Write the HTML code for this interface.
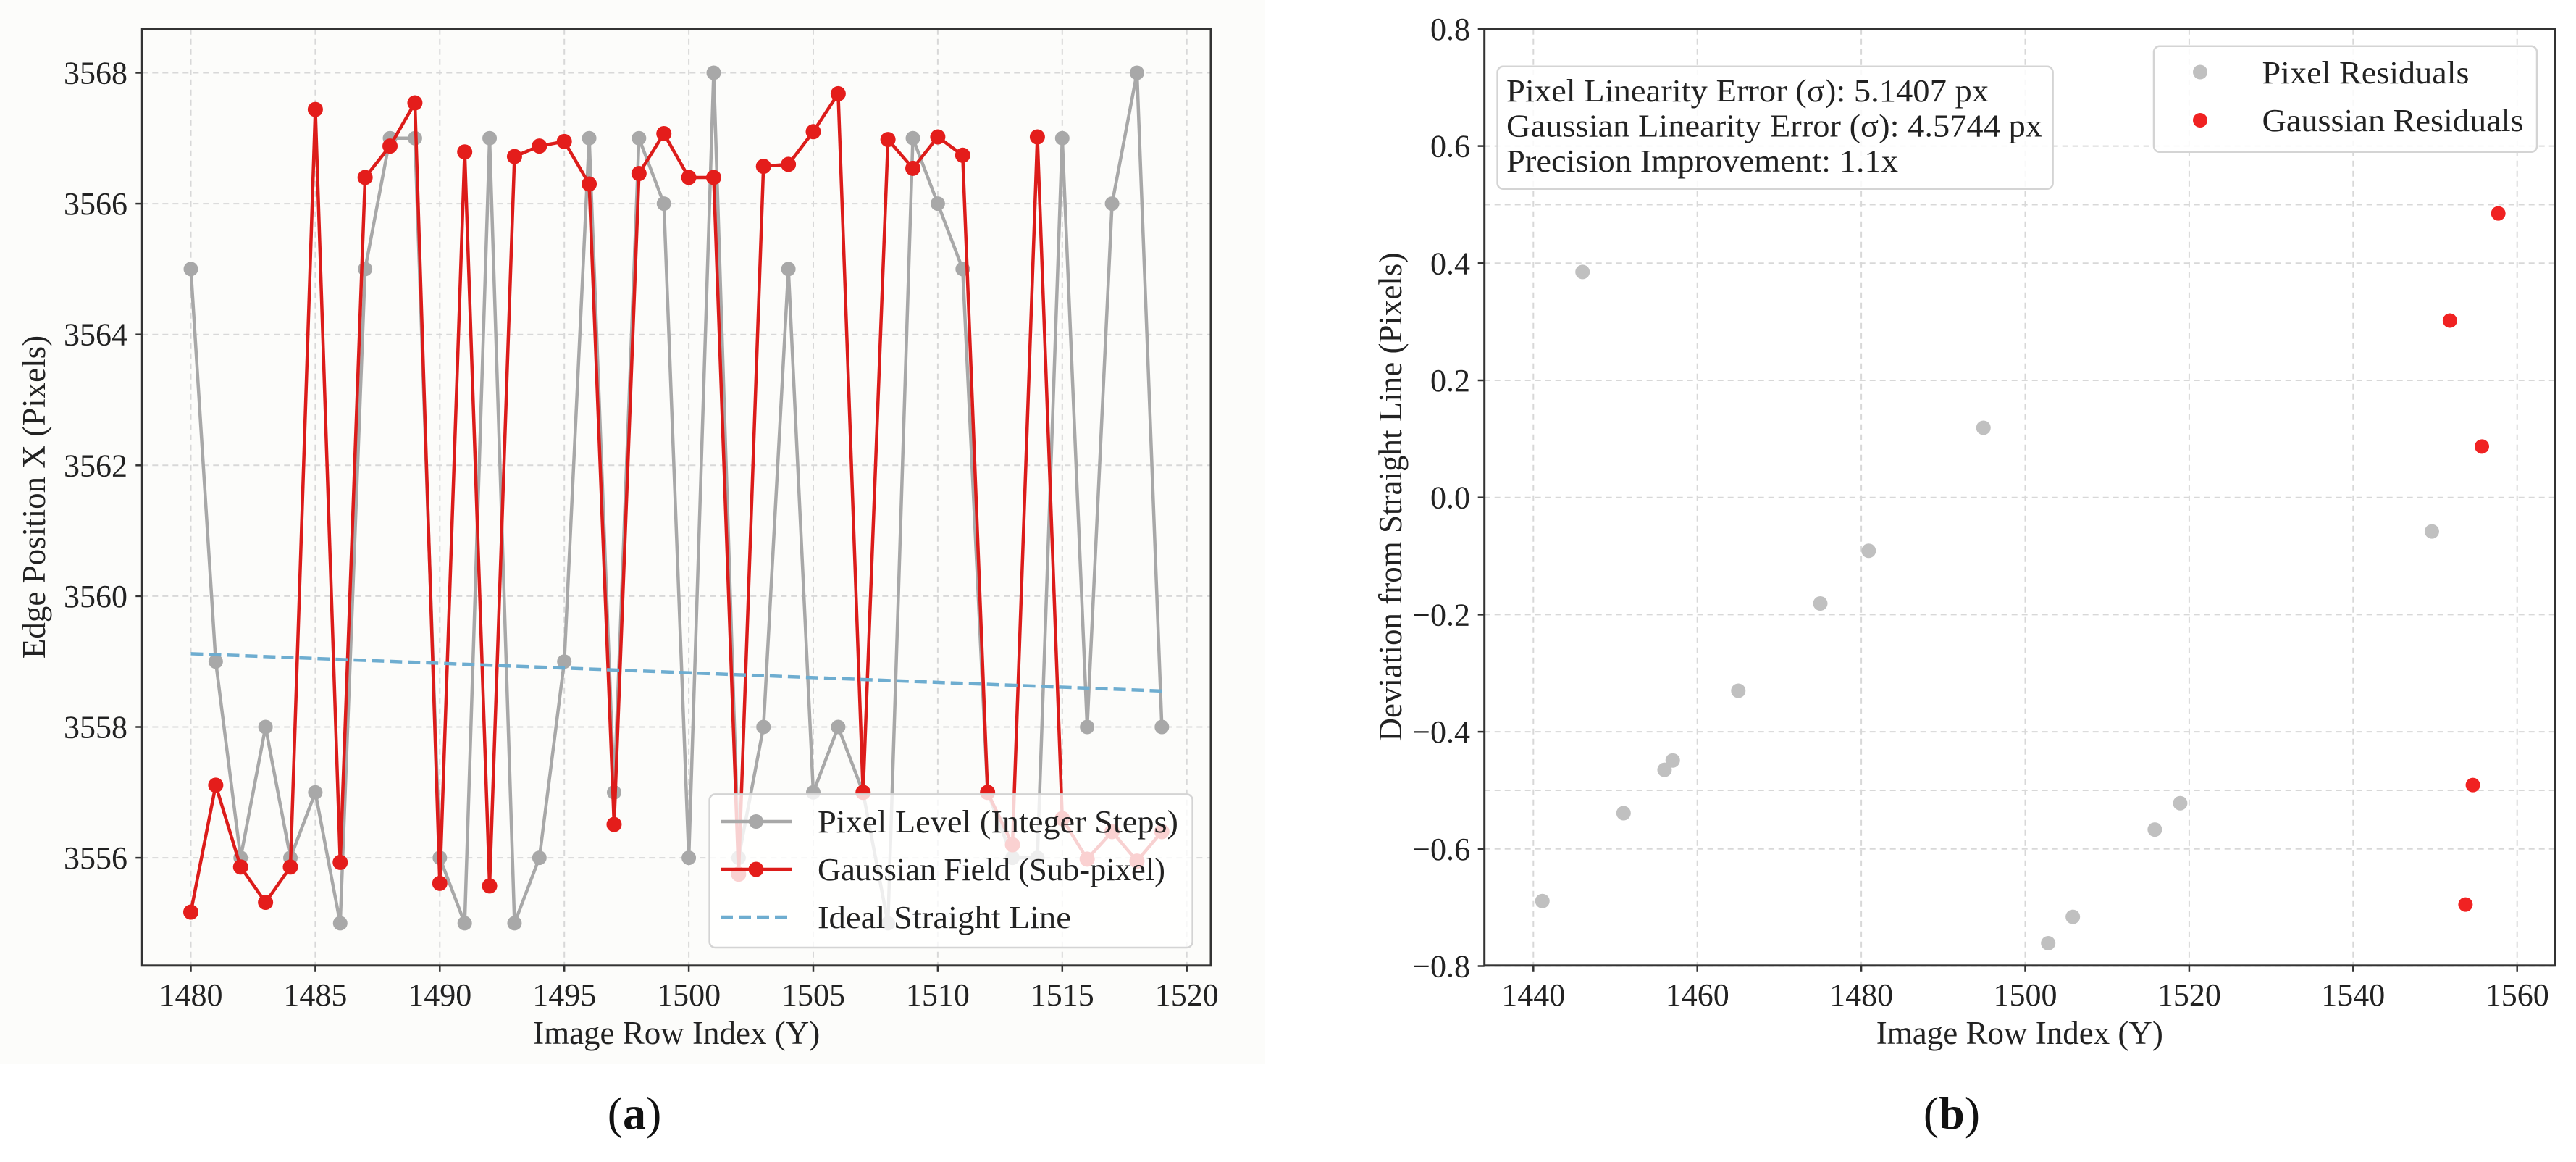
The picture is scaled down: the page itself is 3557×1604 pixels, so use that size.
<!DOCTYPE html>
<html><head><meta charset="utf-8"><style>
html,body{margin:0;padding:0;background:#fff;}
svg{display:block;font-family:"Liberation Serif",serif;}
</style></head><body>
<svg id="fig" width="3557" height="1604" viewBox="0 0 3557 1604" xmlns="http://www.w3.org/2000/svg">
<rect x="0" y="0" width="3557" height="1604" fill="#ffffff"/>
<rect x="0" y="0" width="1747" height="1469" fill="#fcfcfa"/>
<g id="chartA"></g>
<g id="chartB"></g>
</svg>
<script>
// ---------- Chart A data ----------
const rowsA = [1480,1481,1482,1483,1484,1485,1486,1487,1488,1489,1490,1491,1492,1493,1494,1495,1496,1497,1498,1499,1500,1501,1502,1503,1504,1505,1506,1507,1508,1509,1510,1511,1512,1513,1514,1515,1516,1517,1518,1519];
const pixelLevel = [3565,3559,3556,3558,3556,3557,3555,3565,3567,3567,3556,3555,3567,3555,3556,3559,3567,3557,3567,3566,3556,3568,3556,3558,3565,3557,3558,3557,3555,3567,3566,3565,3557,3556,3556,3567,3558,3566,3568,3558];
const gaussianField = [3555.17,3557.11,3555.86,3555.32,3555.86,3567.44,3555.93,3566.40,3566.88,3567.54,3555.61,3566.79,3555.57,3566.72,3566.88,3566.95,3566.30,3556.51,3566.46,3567.07,3566.40,3566.40,3555.75,3566.57,3566.60,3567.10,3567.68,3557.0,3566.98,3566.54,3567.02,3566.74,3557.0,3556.2,3567.02,3556.6,3555.98,3556.4,3555.95,3556.4];
const idealLine = [3559.12,3558.55];
const xTicksA = [1480,1485,1490,1495,1500,1505,1510,1515,1520];
const yTicksA = [3556,3558,3560,3562,3564,3566,3568];

// ---------- Chart B data ----------
const pixelResRows = [1441.1,1446.0,1451.0,1456.0,1457.0,1465.0,1475.0,1480.9,1494.9,1502.8,1505.8,1515.8,1518.9,1549.6];
const pixelResVals = [-0.689,0.385,-0.539,-0.465,-0.449,-0.330,-0.181,-0.091,0.119,-0.761,-0.716,-0.567,-0.522,-0.058];
const gaussResRows = [1551.8,1553.7,1554.6,1555.7,1557.7];
const gaussResVals = [0.302,-0.695,-0.491,0.087,0.485];
const xTicksB = [1440,1460,1480,1500,1520,1540,1560];
const yTicksB = [-0.8,-0.6,-0.4,-0.2,0.0,0.2,0.4,0.6,0.8];
const statLines = ["Pixel Linearity Error (σ): 5.1407 px","Gaussian Linearity Error (σ): 4.5744 px","Precision Improvement: 1.1x"];

const NS="http://www.w3.org/2000/svg";
function mk(parent,tag,attrs,text){const e=document.createElementNS(NS,tag);for(const k in attrs)e.setAttribute(k,attrs[k]);if(text!==undefined)e.textContent=text;parent.appendChild(e);return e;}

// ================= Chart A =================
(function(){
const g=document.getElementById('chartA');
const L=196.3,R=1672,T=39.8,B=1332.8;
const xA=v=>263.5+(v-1480)*34.38;
const yA=v=>100.5+(3568-v)*90.3;
const grid=mk(g,'g',{});


xTicksA.forEach(t=>{mk(grid,'line',{x1:xA(t),x2:xA(t),y1:T,y2:B,stroke:'#d8d8d8','stroke-width':2,'stroke-dasharray':'8,6'});});
yTicksA.forEach(t=>{mk(grid,'line',{x1:L,x2:R,y1:yA(t),y2:yA(t),stroke:'#d8d8d8','stroke-width':2,'stroke-dasharray':'8,6'});});
const gp=mk(g,'g',{});


mk(gp,'polyline',{points:rowsA.map((r,i)=>xA(r)+','+yA(pixelLevel[i])).join(' '),fill:'none',stroke:'#a8a8a8','stroke-width':4.5,'stroke-linejoin':'round'});
rowsA.forEach((r,i)=>{const c=mk(gp,'circle',{cx:xA(r),cy:yA(pixelLevel[i]),r:10,fill:'#a8a8a8'});

});
const gg=mk(g,'g',{});


mk(gg,'polyline',{points:rowsA.map((r,i)=>xA(r)+','+yA(gaussianField[i])).join(' '),fill:'none',stroke:'#dc1c1a','stroke-width':4.5,'stroke-linejoin':'round'});
rowsA.forEach((r,i)=>{const c=mk(gg,'circle',{cx:xA(r),cy:yA(gaussianField[i]),r:10.5,fill:'#e41d1b'});

});
const il=mk(g,'line',{x1:xA(rowsA[0]),y1:yA(idealLine[0]),x2:xA(rowsA[rowsA.length-1]),y2:yA(idealLine[1]),stroke:'#6eadd0','stroke-width':4.5,'stroke-dasharray':'17,8'});


const fr=mk(g,'rect',{x:L,y:T,width:R-L,height:B-T,fill:'none',stroke:'#333','stroke-width':3});


xTicksA.forEach(t=>{mk(g,'line',{x1:xA(t),x2:xA(t),y1:B,y2:B+9,stroke:'#333','stroke-width':2.5});
const tx=mk(g,'text',{x:xA(t),y:1388,'font-size':44,'text-anchor':'middle',fill:'#222'},t);

});
yTicksA.forEach(t=>{mk(g,'line',{x1:L-9,x2:L,y1:yA(t),y2:yA(t),stroke:'#333','stroke-width':2.5});
const tx=mk(g,'text',{x:176,y:yA(t)+15,'font-size':44,'text-anchor':'end',fill:'#222'},t);

});
const xl=mk(g,'text',{x:(L+R)/2,y:1441,'font-size':45,'text-anchor':'middle',fill:'#222'},'Image Row Index (Y)');


const yl=mk(g,'text',{x:0,y:0,'font-size':45,'text-anchor':'middle',fill:'#222',transform:'translate(62,686) rotate(-90)'},'Edge Position X (Pixels)');


const lg=mk(g,'g',{});


mk(lg,'rect',{x:979.6,y:1096.4,width:667,height:211.6,rx:8,fill:'#ffffff','fill-opacity':0.8,stroke:'#d4d4d4','stroke-width':2.5});
const ly=[1134,1200,1266];
mk(lg,'line',{x1:995,x2:1093,y1:ly[0],y2:ly[0],stroke:'#a8a8a8','stroke-width':4.5});
mk(lg,'circle',{cx:1044,cy:ly[0],r:10,fill:'#a8a8a8'});
mk(lg,'line',{x1:995,x2:1093,y1:ly[1],y2:ly[1],stroke:'#dc1c1a','stroke-width':4.5});
mk(lg,'circle',{cx:1044,cy:ly[1],r:10.5,fill:'#e41d1b'});
mk(lg,'line',{x1:995,x2:1093,y1:ly[2],y2:ly[2],stroke:'#6eadd0','stroke-width':4.5,'stroke-dasharray':'17,8'});
const labs=['Pixel Level (Integer Steps)','Gaussian Field (Sub-pixel)','Ideal Straight Line'];
const lens=[498,480,350];
labs.forEach((s,i)=>{const t=mk(lg,'text',{x:1129,y:ly[i]+15,'font-size':44,fill:'#222',textLength:lens[i],lengthAdjust:'spacingAndGlyphs'},s);

});
const cap=mk(g,'text',{x:876,y:1558,'font-size':64,'text-anchor':'middle',fill:'#111'},'');
mk(cap,'tspan',{},'(');mk(cap,'tspan',{'font-weight':'bold'},'a');mk(cap,'tspan',{},')');


})();

// ================= Chart B =================
(function(){
const g=document.getElementById('chartB');
const L=2049.7,R=3528,T=39.8,B=1332.8;
const xB=v=>2117.3+(v-1440)*11.32;
const yB=v=>686.7-v*808.5;
const grid=mk(g,'g',{});


xTicksB.forEach(t=>{mk(grid,'line',{x1:xB(t),x2:xB(t),y1:T,y2:B,stroke:'#d8d8d8','stroke-width':2,'stroke-dasharray':'8,6'});});
yTicksB.concat([0.5,-0.5]).forEach(t=>{mk(grid,'line',{x1:L,x2:R,y1:yB(t),y2:yB(t),stroke:'#d8d8d8','stroke-width':2,'stroke-dasharray':'8,6'});});
const gp=mk(g,'g',{});


pixelResRows.forEach((r,i)=>{const c=mk(gp,'circle',{cx:xB(r),cy:yB(pixelResVals[i]),r:10,fill:'#c0c0c0'});

});
const gr=mk(g,'g',{});


gaussResRows.forEach((r,i)=>{const c=mk(gr,'circle',{cx:xB(r),cy:yB(gaussResVals[i]),r:10,fill:'#f02222'});

});
const fr=mk(g,'rect',{x:L,y:T,width:R-L,height:B-T,fill:'none',stroke:'#333','stroke-width':3});


xTicksB.forEach(t=>{mk(g,'line',{x1:xB(t),x2:xB(t),y1:B,y2:B+9,stroke:'#333','stroke-width':2.5});
const tx=mk(g,'text',{x:xB(t),y:1388,'font-size':44,'text-anchor':'middle',fill:'#222'},t);

});
yTicksB.forEach(t=>{mk(g,'line',{x1:L-9,x2:L,y1:yB(t),y2:yB(t),stroke:'#333','stroke-width':2.5});
const s=(t<0?'\u2212':'')+Math.abs(t).toFixed(1);
const tx=mk(g,'text',{x:2030,y:yB(t)+15,'font-size':44,'text-anchor':'end',fill:'#222'},s);

});
const xl=mk(g,'text',{x:(L+R)/2,y:1441,'font-size':45,'text-anchor':'middle',fill:'#222'},'Image Row Index (Y)');


const yl=mk(g,'text',{x:0,y:0,'font-size':45,'text-anchor':'middle',fill:'#222',transform:'translate(1935,686) rotate(-90)'},'Deviation from Straight Line (Pixels)');


const sb=mk(g,'g',{});


mk(sb,'rect',{x:2067.6,y:91.8,width:767,height:169,rx:8,fill:'#ffffff','fill-opacity':0.85,stroke:'#d4d4d4','stroke-width':2.5});
const statLens=[666,740,541];
statLines.forEach((s,i)=>{const t=mk(sb,'text',{x:2080,y:140+i*48.5,'font-size':44,fill:'#222',textLength:statLens[i],lengthAdjust:'spacingAndGlyphs'},s);

});
const lg=mk(g,'g',{});


mk(lg,'rect',{x:2974,y:63.8,width:529,height:146,rx:8,fill:'#ffffff','fill-opacity':0.85,stroke:'#d4d4d4','stroke-width':2.5});
mk(lg,'circle',{cx:3038,cy:99.5,r:10,fill:'#c0c0c0'});
mk(lg,'circle',{cx:3038,cy:166,r:10,fill:'#f02222'});
const t1=mk(lg,'text',{x:3123.5,y:115,'font-size':44,fill:'#222',textLength:286,lengthAdjust:'spacingAndGlyphs'},'Pixel Residuals');


const t2=mk(lg,'text',{x:3123.5,y:181,'font-size':44,fill:'#222',textLength:361,lengthAdjust:'spacingAndGlyphs'},'Gaussian Residuals');


const cap=mk(g,'text',{x:2695,y:1558,'font-size':64,'text-anchor':'middle',fill:'#111'},'');
mk(cap,'tspan',{},'(');mk(cap,'tspan',{'font-weight':'bold'},'b');mk(cap,'tspan',{},')');


})();
</script>
</body></html>
